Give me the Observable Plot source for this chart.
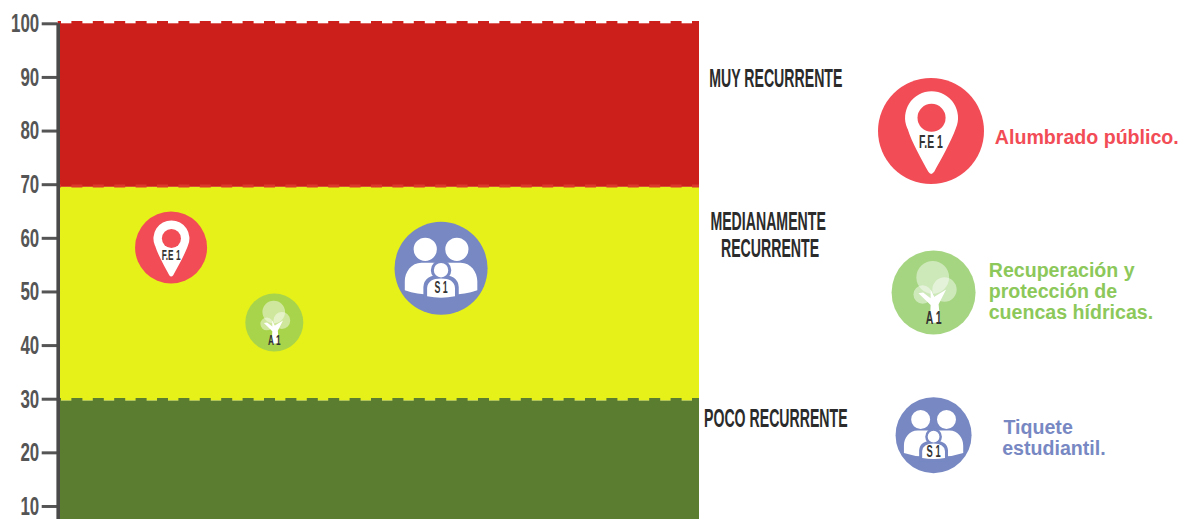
<!DOCTYPE html>
<html><head><meta charset="utf-8">
<script src="https://cdn.jsdelivr.net/npm/d3@7"></script>
<script src="https://cdn.jsdelivr.net/npm/@observablehq/plot@0.6"></script>
<style>html,body{margin:0;padding:0;background:#fff}svg{display:block}</style>
</head><body><div id="chart"></div>
<script>
// Bands
const bandTop = [100, 69.5, 29.65];
const bandBottom = [69.5, 29.65, 0];
const bandColor = ["#cc1f1c", "#e6f019", "#5a7d2f"];
// Dashed edges
const edgeValue = [100.25, 69.75, 29.95];
const edgeColor = ["#cc1f1c", "#d93a2b", "#5a7d2f"];
const yTicks = [10, 20, 30, 40, 50, 60, 70, 80, 90, 100];
// Band labels
const bandLabel = ["MUY RECURRENTE", "MEDIANAMENTE", "RECURRENTE", "POCO RECURRENTE"];
const bandLabelX = [111.9, 110.7, 111, 111.9];
const bandLabelY = [89.8, 63.1, 58.1, 26.4];
// Bubbles: chart, then key
const bubbleKind = ["pin", "tree", "family", "pin", "tree", "family"];
const bubbleCode = ["F.E 1", "A 1", "S 1", "F.E 1", "A 1", "S 1"];
const bubbleX = [17.6, 33.7, 59.7, 136.1, 136.5, 136.5];
const bubbleY = [58.3, 44.3, 54.4, 80, 49.9, 23.3];
const bubbleR = [36, 29, 46.5, 53, 42, 38];
const bubbleFill = ["#f24c56", "#a8d44c", "#7788c3", "#f24c56", "#a5d580", "#7788c3"];
const codeSize = [15, 15, 16, 19, 19, 17];
const codeOffset = {pin: 0.21, tree: 0.6, family: 0.42};
// Key text
const keyText = ["Alumbrado público.", "Recuperación y", "protección de", "cuencas hídricas.", "Tiquete", "estudiantil."];
const keyX = [146.05, 145.1, 145.1, 145.1, 147.4, 147.2];
const keyY = [78.8, 54, 50.1, 46.2, 24.7, 20.8];
const keyColor = ["#f24c56", "#8cc85a", "#8cc85a", "#8cc85a", "#7788c3", "#7788c3"];

const TAU = Math.PI * 2;
const unit = (draw) => ({draw(c, size) { draw(c, Math.sqrt(size / Math.PI)); }});
const disc = (c, r, x, y, q) => { c.moveTo((x + q) * r, y * r); c.arc(x * r, y * r, q * r, 0, TAU); };

const pinShape = unit((c, r) => {
  c.moveTo(-0.44 * r, -0.04 * r);
  c.arc(0.01 * r, -0.25 * r, 0.5 * r, Math.PI * 0.87, Math.PI * 2.13);
  c.bezierCurveTo(0.38 * r, 0.2 * r, 0.18 * r, 0.55 * r, 0.06 * r, 0.77 * r);
  c.quadraticCurveTo(0, 0.85 * r, -0.05 * r, 0.77 * r);
  c.bezierCurveTo(-0.17 * r, 0.55 * r, -0.37 * r, 0.2 * r, -0.44 * r, -0.04 * r);
  c.closePath();
});
const pinHole = unit((c, r) => disc(c, r, 0.01, -0.25, 0.265));
const crownBig = unit((c, r) => disc(c, r, -0.02, -0.36, 0.39));
const crownSides = unit((c, r) => { disc(c, r, 0.26, -0.07, 0.29); disc(c, r, -0.26, 0.05, 0.22); });
const trunk = unit((c, r) => {
  c.moveTo(-0.09 * r, 0.72 * r);
  c.lineTo(-0.07 * r, 0.3 * r);
  c.lineTo(-0.36 * r, 0.02 * r);
  c.lineTo(-0.25 * r, 0.0 * r);
  c.lineTo(-0.07 * r, 0.14 * r);
  c.lineTo(-0.07 * r, -0.07 * r);
  c.lineTo(0.02 * r, 0.1 * r);
  c.lineTo(0.3 * r, -0.07 * r);
  c.lineTo(0.12 * r, 0.28 * r);
  c.lineTo(0.16 * r, 0.72 * r);
  c.closePath();
});
const parents = unit((c, r) => {
  disc(c, r, -0.34, -0.41, 0.25);
  disc(c, r, 0.34, -0.41, 0.25);
  const body = (s) => {
    c.moveTo(s * 0.02 * r, -0.12 * r);
    c.lineTo(s * 0.42 * r, -0.12 * r);
    c.bezierCurveTo(s * 0.64 * r, -0.12 * r, s * 0.78 * r, 0.08 * r, s * 0.78 * r, 0.28 * r);
    c.lineTo(s * 0.78 * r, 0.47 * r);
    c.quadraticCurveTo(s * 0.4 * r, 0.6 * r, s * 0.02 * r, 0.55 * r);
    c.closePath();
  };
  body(-1); body(1);
});
const childHalo = unit((c, r) => {
  disc(c, r, 0, 0.04, 0.22);
  c.moveTo(-0.38 * r, 0.7 * r);
  c.lineTo(-0.38 * r, 0.4 * r);
  c.quadraticCurveTo(-0.36 * r, 0.14 * r, 0, 0.14 * r);
  c.quadraticCurveTo(0.36 * r, 0.14 * r, 0.38 * r, 0.4 * r);
  c.lineTo(0.38 * r, 0.7 * r);
  c.closePath();
});
const child = unit((c, r) => {
  disc(c, r, 0, 0.04, 0.155);
  c.moveTo(-0.3 * r, 0.6 * r);
  c.lineTo(-0.3 * r, 0.42 * r);
  c.quadraticCurveTo(-0.28 * r, 0.22 * r, 0, 0.22 * r);
  c.quadraticCurveTo(0.28 * r, 0.22 * r, 0.3 * r, 0.42 * r);
  c.lineTo(0.3 * r, 0.6 * r);
  c.quadraticCurveTo(0, 0.66 * r, -0.3 * r, 0.6 * r);
  c.closePath();
});

const layers = {
  pin: (fill) => [[pinShape, "#fff", 1], [pinHole, fill, 1]],
  tree: () => [[crownBig, "#fff", 0.45], [crownSides, "#fff", 0.45], [trunk, "#fff", 1]],
  family: (fill) => [[parents, "#fff", 1], [childHalo, fill, 1], [child, "#fff", 1]]
};

const bubbleMarks = bubbleKind.flatMap((kind, i) => {
  const at = {x: () => bubbleX[i], y: () => bubbleY[i], r: bubbleR[i]};
  const row = [i];
  return [
    Plot.dot(row, {...at, fill: bubbleFill[i], stroke: "none"}),
    ...layers[kind](bubbleFill[i]).map(([symbol, fill, fillOpacity]) =>
      Plot.dot(row, {...at, symbol, fill, fillOpacity, stroke: "none"})),
    Plot.text(row, {
      x: () => bubbleX[i], y: () => bubbleY[i], text: () => bubbleCode[i],
      dy: bubbleR[i] * codeOffset[kind], fontSize: codeSize[i], fontWeight: 700,
      fontFamily: "'Liberation Sans Narrow','Liberation Sans',sans-serif",
      fill: "#333", className: "cond-code"
    })
  ];
});

const idx = (a) => a.map((_, i) => i);
const plot = Plot.plot({
  width: 1182, height: 519, marginLeft: 57.7, marginRight: 0, marginTop: 0, marginBottom: 0,
  style: {background: "#fff", overflow: "hidden"},
  x: {domain: [0, 100], range: [57.7, 699], axis: null},
  y: {domain: [0, 100], range: [559.6, 23.3]},
  marks: [
    Plot.rect(idx(bandTop), {x1: 0, x2: 100, y1: (i) => bandBottom[i], y2: (i) => bandTop[i], fill: (i) => bandColor[i], inset: 0}),
    Plot.ruleY(idx(edgeValue), {y: (i) => edgeValue[i], x1: 0, x2: 100, stroke: (i) => edgeColor[i], strokeWidth: 3, strokeDasharray: "11 10.4", strokeDashoffset: 7.7}),
    Plot.axisY({ticks: yTicks, tickSize: 16, tickPadding: 3, stroke: "#555", strokeWidth: 3, fill: "#555", fontSize: 26, fontWeight: 700, fontFamily: "'Liberation Sans Narrow','Liberation Sans',sans-serif", label: null}),
    Plot.ruleX([0], {y1: 0, y2: 100, stroke: "#4a4a4a", strokeWidth: 3.6}),
    Plot.text(idx(bandLabel), {x: (i) => bandLabelX[i], y: (i) => bandLabelY[i], text: (i) => bandLabel[i], fontSize: 25, fontWeight: 700, fontFamily: "'Liberation Sans Narrow','Liberation Sans',sans-serif", fill: "#2b2b2b", className: "cond-band"}),
    ...bubbleMarks,
    Plot.text(idx(keyText), {x: (i) => keyX[i], y: (i) => keyY[i], text: (i) => keyText[i], textAnchor: "start", fontSize: 19.6, fontWeight: 700, fontFamily: "'Liberation Sans',Arial,sans-serif", fill: (i) => keyColor[i]})
  ]
});
document.getElementById("chart").append(plot);
// Condensed display lettering
const squeeze = (sel, f) => plot.querySelectorAll(sel).forEach((t) => {
  t.setAttribute("textLength", (t.getComputedTextLength() * f).toFixed(1));
  t.setAttribute("lengthAdjust", "spacingAndGlyphs");
});
squeeze(".cond-band text", 0.565);
squeeze(".cond-code text", 0.55);
squeeze('[aria-label="y-axis tick label"] text', 0.65);
</script></body></html>
